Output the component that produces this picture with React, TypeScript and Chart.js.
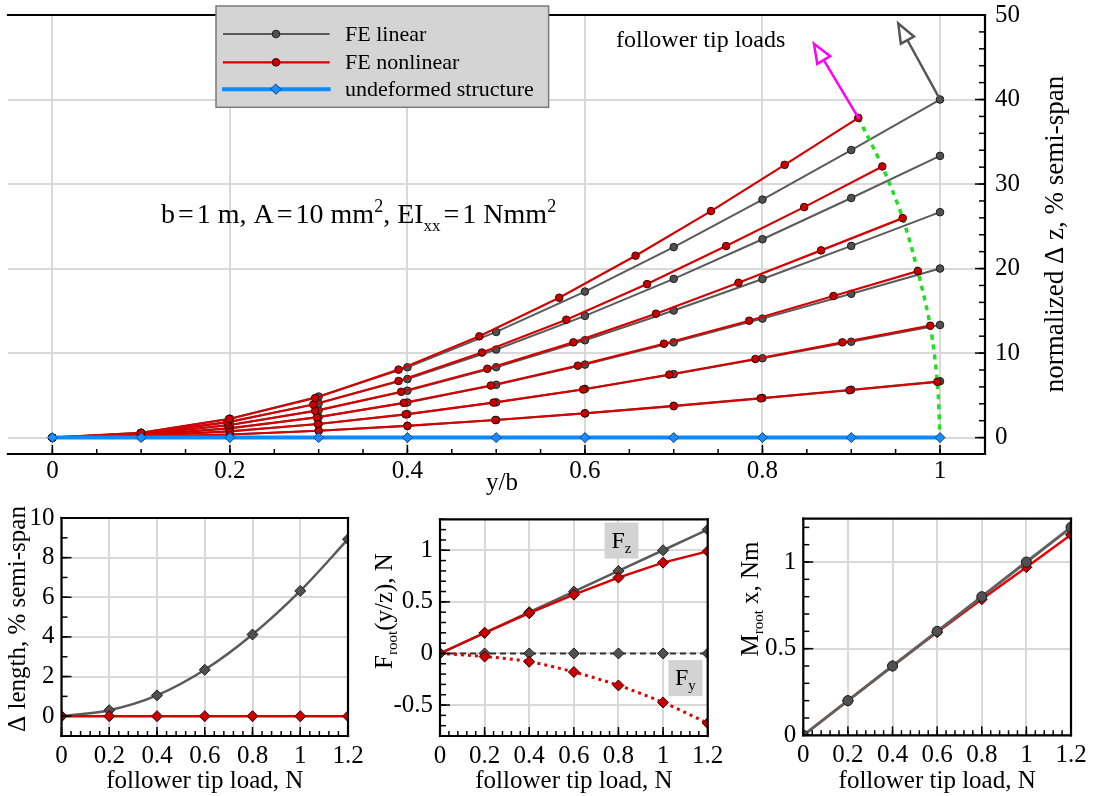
import React, { useEffect, useRef } from "react";
import { Chart, registerables } from "chart.js";

Chart.register(...registerables);

const FONT = "'Liberation Serif', 'DejaVu Serif', serif";
const GRID = "#d9d9d9";
const GRAY_LINE = "#5a5a5a";
const GRAY_FILL = "#505050";
const RED_LINE = "#d40000";
const RED_FILL = "#c80000";
const BLUE = "#0a8bff";

// ---------- top panel: deflection along the span ----------
const SPAN = [0, 0.1, 0.2, 0.3, 0.4, 0.5, 0.6, 0.7, 0.8, 0.9, 1];
const UNDEFORMED_DZ = [0, 0, 0, 0, 0, 0, 0, 0, 0, 0, 0];

// linear FE, normalized Δz (% semi-span) per tip load 0.2 … 1.2 N
const LIN_DZ_02 = [0, 0.1, 0.37, 0.81, 1.39, 2.08, 2.88, 3.76, 4.69, 5.67, 6.67];
const LIN_DZ_04 = [0, 0.19, 0.75, 1.62, 2.77, 4.17, 5.76, 7.51, 9.39, 11.34, 13.33];
const LIN_DZ_06 = [0, 0.29, 1.12, 2.43, 4.16, 6.25, 8.64, 11.27, 14.08, 17.01, 20];
const LIN_DZ_08 = [0, 0.39, 1.49, 3.24, 5.55, 8.33, 11.52, 15.03, 18.77, 22.68, 26.67];
const LIN_DZ_10 = [0, 0.48, 1.87, 4.05, 6.93, 10.42, 14.4, 18.78, 23.47, 28.35, 33.33];
const LIN_DZ_12 = [0, 0.58, 2.24, 4.86, 8.32, 12.5, 17.28, 22.54, 28.16, 34.02, 40];

// nonlinear FE, deformed node positions (y/b, Δz)
const NL_Y_02 = [0, 0.1, 0.2, 0.3, 0.4, 0.499, 0.6, 0.7, 0.798, 0.898, 0.997];
const NL_DZ_02 = [0, 0.1, 0.37, 0.81, 1.38, 2.08, 2.86, 3.72, 4.65, 5.6, 6.6];
const NL_Y_04 = [0, 0.1, 0.2, 0.299, 0.398, 0.497, 0.598, 0.695, 0.792, 0.89, 0.989];
const NL_DZ_04 = [0, 0.19, 0.74, 1.61, 2.75, 4.14, 5.69, 7.45, 9.3, 11.27, 13.24];
const NL_Y_06 = [0, 0.1, 0.199, 0.298, 0.396, 0.494, 0.592, 0.689, 0.785, 0.88, 0.975];
const NL_DZ_06 = [0, 0.29, 1.1, 2.39, 4.1, 6.16, 8.51, 11.11, 13.83, 16.75, 19.7];
const NL_Y_08 = [0, 0.1, 0.198, 0.296, 0.393, 0.49, 0.587, 0.68, 0.773, 0.866, 0.958];
const NL_DZ_08 = [0, 0.38, 1.46, 3.17, 5.42, 8.14, 11.27, 14.66, 18.32, 22.15, 25.97];
const NL_Y_10 = [0, 0.099, 0.197, 0.294, 0.39, 0.484, 0.579, 0.67, 0.759, 0.847, 0.935];
const NL_DZ_10 = [0, 0.47, 1.81, 3.92, 6.7, 10.06, 13.95, 18.16, 22.66, 27.27, 32.08];
const NL_Y_12 = [0, 0.1, 0.199, 0.296, 0.39, 0.481, 0.571, 0.657, 0.742, 0.825, 0.908];
const NL_DZ_12 = [0, 0.57, 2.2, 4.68, 8.04, 11.98, 16.55, 21.52, 26.8, 32.27, 37.83];

// follower load arrows: [from y/b, from Δz, to y/b, to Δz]
const ARROW_NONLINEAR = [0.908, 37.83, 0.858, 46.6];
const ARROW_LINEAR = [1, 40, 0.953, 49.0];

const MAIN_X_TICKS = [0, 0.2, 0.4, 0.6, 0.8, 1];
const MAIN_Y_TICKS = [0, 10, 20, 30, 40, 50];

// ---------- bottom panels: root quantities vs follower tip load ----------
const LOADS = [0, 0.2, 0.4, 0.6, 0.8, 1, 1.2];
const DLEN_LINEAR = [0, 0.3, 1.05, 2.34, 4.12, 6.32, 8.93];
const DLEN_NONLINEAR = [0, 0, 0, 0, 0, 0, 0];
const FZ_LINEAR = [0, 0.2, 0.4, 0.6, 0.8, 1, 1.2];
const FZ_NONLINEAR = [0, 0.2, 0.39, 0.57, 0.735, 0.88, 0.99];
const FY_LINEAR = [0, 0, 0, 0, 0, 0, 0];
const FY_NONLINEAR = [0, -0.03, -0.08, -0.18, -0.31, -0.475, -0.675];
const MX_LINEAR = [0, 0.2, 0.4, 0.6, 0.8, 1, 1.2];
const MX_NONLINEAR = [0, 0.2, 0.4, 0.595, 0.785, 0.97, 1.157];

const LOAD_TICKS = [0, 0.2, 0.4, 0.6, 0.8, 1, 1.2];
const DLEN_TICKS = [0, 2, 4, 6, 8, 10];
const FORCE_TICKS = [-0.5, 0, 0.5, 1];
const MOMENT_TICKS = [0, 0.5, 1];

// ---------- helpers ----------
type Run = { t: string; s: number; dy?: number; gap?: number };

function steps(a: number, b: number, s: number): number[] {
  const out: number[] = [];
  const n = Math.round((b - a) / s);
  for (let i = 0; i <= n; i++) out.push(Math.round((a + i * s) * 1e6) / 1e6);
  return out;
}

function runWidth(ctx: CanvasRenderingContext2D, r: Run) {
  if (r.gap) return r.gap;
  ctx.font = `${r.s}px ${FONT}`;
  return ctx.measureText(r.t).width;
}

function runsWidth(ctx: CanvasRenderingContext2D, runs: Run[]) {
  let w = 0;
  for (const r of runs) w += runWidth(ctx, r);
  return w;
}

function drawRuns(ctx: CanvasRenderingContext2D, x: number, y: number, runs: Run[], center: boolean) {
  let cx = center ? x - runsWidth(ctx, runs) / 2 : x;
  ctx.textAlign = "left";
  ctx.textBaseline = "alphabetic";
  for (const r of runs) {
    if (!r.gap) {
      ctx.font = `${r.s}px ${FONT}`;
      ctx.fillText(r.t, cx, y + (r.dy || 0));
    }
    cx += runWidth(ctx, r);
  }
}

function drawVertical(ctx: CanvasRenderingContext2D, baseX: number, cy: number, runs: Run[]) {
  ctx.save();
  ctx.translate(baseX, cy);
  ctx.rotate(-Math.PI / 2);
  drawRuns(ctx, 0, 0, runs, true);
  ctx.restore();
}

function drawArrow(ctx: CanvasRenderingContext2D, x0: number, y0: number, x1: number, y1: number, color: string) {
  const dx = x1 - x0, dy = y1 - y0;
  const len = Math.hypot(dx, dy);
  const ux = dx / len, uy = dy / len;
  const head = 19, half = 7.5;
  const bx = x1 - ux * head, by = y1 - uy * head;
  ctx.save();
  ctx.strokeStyle = color;
  ctx.lineWidth = 2.5;
  ctx.beginPath();
  ctx.moveTo(x0, y0);
  ctx.lineTo(bx, by);
  ctx.stroke();
  ctx.beginPath();
  ctx.moveTo(x1, y1);
  ctx.lineTo(bx - uy * half, by + ux * half);
  ctx.lineTo(bx + uy * half, by - ux * half);
  ctx.closePath();
  ctx.fillStyle = "#fff";
  ctx.fill();
  ctx.stroke();
  ctx.restore();
}

function decor(cfg: {
  frame: string[];
  ySide: "left" | "right";
  xMajor: number[];
  xMinor: number[];
  yMajor: number[];
  yMinor: number[];
  extra?: (ctx: CanvasRenderingContext2D, chart: any) => void;
}) {
  return {
    id: "decor",
    afterDatasetsDraw(chart: any) {
      const { ctx, chartArea: a, scales } = chart;
      const xs = scales.x, ys = scales.y;
      ctx.save();
      ctx.strokeStyle = "#000";
      ctx.lineWidth = 1.5;
      const line = (x1: number, y1: number, x2: number, y2: number) => {
        ctx.beginPath();
        ctx.moveTo(x1, y1);
        ctx.lineTo(x2, y2);
        ctx.stroke();
      };
      const inX = (v: number) => v >= xs.min - 1e-9 && v <= xs.max + 1e-9;
      const inY = (v: number) => v >= ys.min - 1e-9 && v <= ys.max + 1e-9;
      const xTick = (v: number, len: number) => {
        if (!inX(v)) return;
        const p = xs.getPixelForValue(v);
        line(p, a.bottom, p, a.bottom - len);
      };
      const yTick = (v: number, len: number) => {
        if (!inY(v)) return;
        const p = ys.getPixelForValue(v);
        if (cfg.ySide === "right") line(a.right, p, a.right - len, p);
        else line(a.left, p, a.left + len, p);
      };
      cfg.xMinor.forEach((v) => xTick(v, 5));
      cfg.xMajor.forEach((v) => xTick(v, 9));
      cfg.yMinor.forEach((v) => yTick(v, 6));
      cfg.yMajor.forEach((v) => yTick(v, 10));

      ctx.lineWidth = 2.2;
      ctx.lineCap = "square";
      if (cfg.frame.includes("top")) line(a.left, a.top, a.right, a.top);
      if (cfg.frame.includes("bottom")) line(a.left, a.bottom, a.right, a.bottom);
      if (cfg.frame.includes("left")) line(a.left, a.top, a.left, a.bottom);
      if (cfg.frame.includes("right")) line(a.right, a.top, a.right, a.bottom);
      ctx.fillStyle = "#000";
      if (cfg.extra) cfg.extra(ctx, chart);
      ctx.restore();
    },
  };
}

function axis(opts: {
  min: number;
  max: number;
  ticks: number[];
  position: string;
  size: number;
  fontSize: number;
  pad: number;
}) {
  const horizontal = opts.position === "bottom";
  return {
    type: "linear",
    position: opts.position,
    min: opts.min,
    max: opts.max,
    afterBuildTicks: (s: any) => {
      s.ticks = opts.ticks.map((v) => ({ value: v }));
    },
    afterFit: (s: any) => {
      if (horizontal) s.height = opts.size;
      else s.width = opts.size;
      // keep the plot frame where the layout padding puts it
      s.paddingTop = 0;
      s.paddingBottom = 0;
      s.paddingLeft = 0;
      s.paddingRight = 0;
    },
    grid: { color: GRID, lineWidth: 2, drawTicks: false },
    border: { display: false },
    ticks: {
      autoSkip: false,
      maxRotation: 0,
      padding: opts.pad,
      color: "#000",
      font: { family: FONT, size: opts.fontSize },
      callback: (v: any) => String(v),
    },
  };
}

const pts = (xs: number[], ys: number[]) => xs.map((x, i) => ({ x, y: ys[i] }));

const grayLine = (data: any[], extra: any = {}) => ({
  data,
  borderColor: GRAY_LINE,
  borderWidth: 2,
  pointRadius: 3.8,
  pointBackgroundColor: GRAY_FILL,
  pointBorderColor: "#1e1e1e",
  pointBorderWidth: 1,
  ...extra,
});

const redLine = (data: any[], extra: any = {}) => ({
  data,
  borderColor: RED_LINE,
  borderWidth: 2.2,
  pointRadius: 3.8,
  pointBackgroundColor: RED_FILL,
  pointBorderColor: "#3a0000",
  pointBorderWidth: 1,
  ...extra,
});

const baseOptions = (padding: any, scales: any) => ({
  animation: false,
  responsive: false,
  devicePixelRatio: 1,
  layout: { padding },
  plugins: { legend: { display: false }, tooltip: { enabled: false } },
  elements: { line: { tension: 0 } },
  scales,
});

// ---------- top panel ----------
function buildMain(): any {
  const linSets = [LIN_DZ_12, LIN_DZ_10, LIN_DZ_08, LIN_DZ_06, LIN_DZ_04, LIN_DZ_02];
  const nlSets = [
    [NL_Y_12, NL_DZ_12],
    [NL_Y_10, NL_DZ_10],
    [NL_Y_08, NL_DZ_08],
    [NL_Y_06, NL_DZ_06],
    [NL_Y_04, NL_DZ_04],
    [NL_Y_02, NL_DZ_02],
  ];
  const tipPath = nlSets.map(([xs, ys]) => ({ x: xs[xs.length - 1], y: ys[ys.length - 1] }));
  tipPath.push({ x: SPAN[SPAN.length - 1], y: UNDEFORMED_DZ[UNDEFORMED_DZ.length - 1] });

  const datasets: any[] = [
    {
      data: pts(SPAN, UNDEFORMED_DZ),
      borderColor: BLUE,
      borderWidth: 4,
      pointStyle: "rectRot",
      pointRadius: 5,
      pointBackgroundColor: "#1a8cff",
      pointBorderColor: "#00427f",
      pointBorderWidth: 1,
    },
    ...nlSets.map(([xs, ys]) => redLine(pts(xs, ys))),
    {
      data: tipPath,
      borderColor: "#22dd22",
      borderWidth: 3.5,
      borderDash: [5, 5],
      pointRadius: 0,
      tension: 0.3,
    },
    ...linSets.map((ys) => grayLine(pts(SPAN, ys))),
  ];

  const extra = (ctx: CanvasRenderingContext2D, chart: any) => {
    const xs = chart.scales.x, ys = chart.scales.y;
    const px = (v: number) => xs.getPixelForValue(v);
    const py = (v: number) => ys.getPixelForValue(v);

    // follower load arrows
    drawArrow(ctx, px(ARROW_NONLINEAR[0]), py(ARROW_NONLINEAR[1]), px(ARROW_NONLINEAR[2]), py(ARROW_NONLINEAR[3]), "#ff00ff");
    drawArrow(ctx, px(ARROW_LINEAR[0]), py(ARROW_LINEAR[1]), px(ARROW_LINEAR[2]), py(ARROW_LINEAR[3]), "#555");

    ctx.fillStyle = "#000";
    drawRuns(ctx, 616, 47, [{ t: "follower tip loads", s: 24 }], false);

    const thin = { t: "", s: 0, gap: 3 };
    drawRuns(
      ctx,
      161,
      223,
      [
        { t: "b", s: 28 },
        thin,
        { t: "=", s: 28 },
        thin,
        { t: "1 m, A", s: 28 },
        thin,
        { t: "=", s: 28 },
        thin,
        { t: "10 mm", s: 28 },
        { t: "2", s: 18, dy: -11 },
        { t: ", EI", s: 28 },
        { t: "xx", s: 17, dy: 8 },
        thin,
        { t: "=", s: 28 },
        thin,
        { t: "1 Nmm", s: 28 },
        { t: "2", s: 18, dy: -11 },
      ],
      false
    );

    // axis titles
    drawRuns(ctx, 502, 490, [{ t: "y/b", s: 25 }], true);
    drawVertical(ctx, 1063, 234, [{ t: "normalized Δ z, % semi-span", s: 27 }]);

    // legend
    const L = 216, T = 6, W = 332.6, H = 101.3;
    ctx.fillStyle = "#d4d4d4";
    ctx.fillRect(L, T, W, H);
    ctx.strokeStyle = "#7a7a7a";
    ctx.lineWidth = 1.5;
    ctx.strokeRect(L, T, W, H);
    const rows = [
      { y: 34, label: "FE linear", color: GRAY_LINE, fill: GRAY_FILL, edge: "#1e1e1e", w: 2, diamond: false },
      { y: 62.3, label: "FE nonlinear", color: RED_LINE, fill: RED_FILL, edge: "#3a0000", w: 2.2, diamond: false },
      { y: 89.3, label: "undeformed structure", color: BLUE, fill: "#1a8cff", edge: "#00427f", w: 4, diamond: true },
    ];
    for (const r of rows) {
      ctx.strokeStyle = r.color;
      ctx.lineWidth = r.w;
      ctx.beginPath();
      ctx.moveTo(224, r.y);
      ctx.lineTo(328.6, r.y);
      ctx.stroke();
      ctx.fillStyle = r.fill;
      ctx.strokeStyle = r.edge;
      ctx.lineWidth = 1;
      ctx.beginPath();
      if (r.diamond) {
        ctx.moveTo(276, r.y - 5);
        ctx.lineTo(281, r.y);
        ctx.lineTo(276, r.y + 5);
        ctx.lineTo(271, r.y);
        ctx.closePath();
      } else {
        ctx.arc(276, r.y, 3.8, 0, Math.PI * 2);
      }
      ctx.fill();
      ctx.stroke();
      ctx.fillStyle = "#000";
      ctx.font = `22px ${FONT}`;
      ctx.textAlign = "left";
      ctx.textBaseline = "middle";
      ctx.fillText(r.label, 345, r.y + 1);
    }
  };

  return {
    type: "line",
    data: { datasets },
    options: baseOptions(
      { left: 8, top: 15, right: 0, bottom: 0 },
      {
        x: axis({ min: -0.05, max: 1.0507, ticks: MAIN_X_TICKS, position: "bottom", size: 46, fontSize: 25, pad: 2 }),
        y: axis({ min: -1.94, max: 50, ticks: MAIN_Y_TICKS, position: "right", size: 109, fontSize: 25, pad: 10 }),
      }
    ),
    plugins: [
      decor({
        frame: ["top", "bottom", "right"],
        ySide: "right",
        xMajor: MAIN_X_TICKS,
        xMinor: steps(0, 1, 0.05),
        yMajor: MAIN_Y_TICKS,
        yMinor: steps(0, 50, 2),
        extra,
      }),
    ],
  };
}

// ---------- bottom panels ----------
const diamond = { pointStyle: "rectRot", pointRadius: 5.5, pointBorderWidth: 1 };

function subOptions(pad: any, yWidth: number, xHeight: number, yMin: number, yMax: number, yTicks: number[]) {
  return baseOptions(pad, {
    x: axis({ min: 0, max: 1.2, ticks: LOAD_TICKS, position: "bottom", size: xHeight, fontSize: 25, pad: 5 }),
    y: axis({ min: yMin, max: yMax, ticks: yTicks, position: "left", size: yWidth, fontSize: 25, pad: 7 }),
  });
}

function xTitle(ctx: CanvasRenderingContext2D, chart: any) {
  const a = chart.chartArea;
  ctx.fillStyle = "#000";
  drawRuns(ctx, (a.left + a.right) / 2, 288, [{ t: "follower tip load, N", s: 25 }], true);
}

function buildLength(): any {
  return {
    type: "line",
    data: {
      datasets: [
        redLine(pts(LOADS, DLEN_NONLINEAR), { ...diamond, borderWidth: 2.4 }),
        grayLine(pts(LOADS, DLEN_LINEAR), { ...diamond, borderWidth: 2.5, cubicInterpolationMode: "monotone" }),
      ],
    },
    options: subOptions({ left: 0, top: 18, right: 22, bottom: 0 }, 61.5, 60, -1, 10, DLEN_TICKS),
    plugins: [
      decor({
        frame: ["top", "bottom", "left", "right"],
        ySide: "left",
        xMajor: LOAD_TICKS,
        xMinor: steps(0, 1.2, 0.04),
        yMajor: DLEN_TICKS,
        yMinor: steps(-1, 10, 1),
        extra: (ctx, chart) => {
          xTitle(ctx, chart);
          drawVertical(ctx, 25, 119, [{ t: "Δ length, % semi-span", s: 25 }]);
        },
      }),
    ],
  };
}

function labelBox(ctx: CanvasRenderingContext2D, chart: any, x: number, y: number, sub: string) {
  const cx = chart.scales.x.getPixelForValue(x);
  const cy = chart.scales.y.getPixelForValue(y);
  ctx.fillStyle = "#d3d3d3";
  ctx.fillRect(cx - 17, cy - 18, 34, 36);
  ctx.fillStyle = "#000";
  drawRuns(ctx, cx, cy + 7, [{ t: "F", s: 24 }, { t: sub, s: 15, dy: 5 }], true);
}

function buildForce(): any {
  return {
    type: "line",
    data: {
      datasets: [
        redLine(pts(LOADS, FZ_NONLINEAR), { ...diamond, borderWidth: 2.4 }),
        grayLine(pts(LOADS, FZ_LINEAR), { ...diamond, borderWidth: 2.5 }),
        redLine(pts(LOADS, FY_NONLINEAR), {
          ...diamond,
          borderWidth: 3,
          borderDash: [3, 4],
          borderColor: "#e00000",
          cubicInterpolationMode: "monotone",
        }),
        grayLine(pts(LOADS, FY_LINEAR), { ...diamond, borderWidth: 2, borderDash: [6, 4], borderColor: "#333" }),
      ],
    },
    options: subOptions({ left: 0, top: 19.3, right: 32.3, bottom: 0 }, 70, 60, -0.8, 1.3, FORCE_TICKS),
    plugins: [
      decor({
        frame: ["top", "bottom", "left", "right"],
        ySide: "left",
        xMajor: LOAD_TICKS,
        xMinor: steps(0, 1.2, 0.04),
        yMajor: FORCE_TICKS,
        yMinor: steps(-0.8, 1.3, 0.1),
        extra: (ctx, chart) => {
          xTitle(ctx, chart);
          drawVertical(ctx, 22, 111, [
            { t: "F", s: 25 },
            { t: "root", s: 15, dy: 5 },
            { t: "(y/z), N", s: 25 },
          ]);
          labelBox(ctx, chart, 0.8136, 1.094, "z");
          labelBox(ctx, chart, 1.1, -0.239, "y");
        },
      }),
    ],
  };
}

function buildMoment(): any {
  return {
    type: "line",
    data: {
      datasets: [
        grayLine(pts(LOADS, MX_LINEAR), { pointRadius: 5, borderWidth: 3, borderColor: "#606060" }),
        redLine(pts(LOADS, MX_NONLINEAR), { ...diamond, borderWidth: 2.4, borderColor: "#ee0000" }),
      ],
    },
    options: subOptions({ left: 0, top: 18.7, right: 23, bottom: 0 }, 63.3, 60.7, 0, 1.25, MOMENT_TICKS),
    plugins: [
      decor({
        frame: ["top", "bottom", "left", "right"],
        ySide: "left",
        xMajor: LOAD_TICKS,
        xMinor: steps(0, 1.2, 0.04),
        yMajor: MOMENT_TICKS,
        yMinor: steps(0, 1.2, 0.1),
        extra: (ctx, chart) => {
          xTitle(ctx, chart);
          drawVertical(ctx, 18, 99, [
            { t: "M", s: 25 },
            { t: "root", s: 15, dy: 5 },
            { t: " x, Nm", s: 25 },
          ]);
        },
      }),
    ],
  };
}

function ChartCanvas(props: { left: number; top: number; width: number; height: number; build: () => any }) {
  const ref = useRef<HTMLCanvasElement>(null);
  useEffect(() => {
    const chart = new Chart(ref.current as HTMLCanvasElement, props.build());
    return () => chart.destroy();
  }, []);
  return (
    <canvas
      ref={ref}
      width={props.width}
      height={props.height}
      style={{ position: "absolute", left: props.left, top: props.top, width: props.width, height: props.height }}
    />
  );
}

export default function App() {
  return (
    <div style={{ position: "absolute", left: 0, top: 0, width: 1094, height: 796, background: "#fff", overflow: "hidden" }}>
      <ChartCanvas left={0} top={0} width={1094} height={500} build={buildMain} />
      <ChartCanvas left={0} top={500} width={370} height={296} build={buildLength} />
      <ChartCanvas left={370} top={500} width={370} height={296} build={buildForce} />
      <ChartCanvas left={740} top={500} width={354} height={296} build={buildMoment} />
    </div>
  );
}
